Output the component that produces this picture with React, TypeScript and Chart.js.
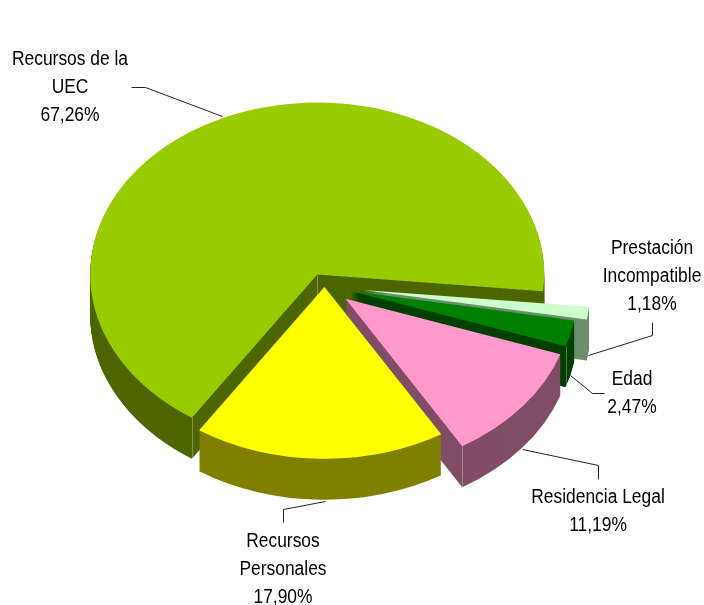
import React, { useEffect, useRef } from "react";
import { Chart, registerables } from "chart.js";

Chart.register(...registerables);

const categories = [
  ["Recursos de la", "UEC"],
  ["Prestación", "Incompatible"],
  ["Edad"],
  ["Residencia Legal"],
  ["Recursos", "Personales"],
];
const shares = [67.26, 1.18, 2.47, 11.19, 17.9];
const explode = [17, 39, 27, 27, 1.3];
const topColors = ["#99cc00", "#ccffcc", "#008000", "#ff99cc", "#ffff00"];
const wallColors = ["#4d6600", "#6b8f6f", "#004000", "#804d66", "#808000"];

const SQUASH = 0.757;
const DEPTH = 41;
const FONT = '20px "Liberation Sans"';
const NARROW = 0.87;
const LINE = 27.8;

const labelCenters = [
  [70, 59.5],
  [652, 248.5],
  [632, 379.5],
  [598, 497.5],
  [283, 541.5],
];
const leaders = [
  [[131, 87], [145, 87], [222, 116]],
  [[588, 355], [652, 335], [652, 322]],
  [[570, 375], [592, 393], [604, 393]],
  [[522, 449], [598, 465], [598, 479]],
  [[325, 501], [283, 509], [283, 522]],
];

const formatShare = (v: number) => v.toFixed(2).replace(".", ",") + "%";

const pie3d = {
  id: "pie3d",
  afterDatasetsUpdate(chart: any) {
    // Slide each wedge out along its own bisector (the built-in offset also narrows wedges).
    chart.getDatasetMeta(0).data.forEach((el: any, idx: number) => {
      const mid = (el.startAngle + el.endAngle) / 2;
      el.x += Math.cos(mid) * explode[idx];
      el.y += Math.sin(mid) * explode[idx];
    });
  },
  beforeDatasetsDraw(chart: any) {
    const ctx = chart.ctx;
    const arcs = chart.getDatasetMeta(0).data;
    const cy = (chart.chartArea.top + chart.chartArea.bottom) / 2;
    const squashAt = (shift: number) => {
      ctx.setTransform(1, 0, 0, SQUASH, 0, cy + shift - cy * SQUASH);
    };
    ctx.save();
    arcs.forEach((el: any, idx: number) => {
      ctx.fillStyle = wallColors[idx];
      for (let i = DEPTH; i >= 1; i--) {
        squashAt(i);
        ctx.beginPath();
        ctx.moveTo(el.x, el.y);
        ctx.arc(el.x, el.y, el.outerRadius, el.startAngle, el.endAngle);
        ctx.closePath();
        ctx.fill();
      }
      // pale ridge where two wall faces meet
      const corners: number[][] = [];
      const tip = (a: number) => [el.x + Math.cos(a) * el.outerRadius, el.y + Math.sin(a) * el.outerRadius];
      if (idx === 0) corners.push([el.x, el.y], tip(el.startAngle));
      if (idx === 2 || idx === 3) corners.push(tip(el.endAngle));
      ctx.setTransform(1, 0, 0, 1, 0, 0);
      ctx.strokeStyle = "rgba(255,255,255,0.3)";
      ctx.lineWidth = 1;
      corners.forEach(([x, y]) => {
        const sy = cy + (y - cy) * SQUASH;
        ctx.beginPath();
        ctx.moveTo(Math.round(x) + 0.5, sy);
        ctx.lineTo(Math.round(x) + 0.5, sy + DEPTH);
        ctx.stroke();
      });
    });
    squashAt(0);
  },
  afterDatasetsDraw(chart: any) {
    const ctx = chart.ctx;
    ctx.restore();
    ctx.save();
    leaders.forEach((pts) => {
      ctx.beginPath();
      pts.forEach(([x, y], i) => (i ? ctx.lineTo(x + 0.5, y + 0.5) : ctx.moveTo(x + 0.5, y + 0.5)));
      ctx.strokeStyle = "#222";
      ctx.lineWidth = 1;
      ctx.stroke();
    });
    ctx.font = FONT;
    ctx.fillStyle = "#000";
    ctx.textAlign = "center";
    ctx.textBaseline = "middle";
    categories.forEach((lines, idx) => {
      const [x, y] = labelCenters[idx];
      [...lines, formatShare(shares[idx])].forEach((t, i) => {
        ctx.save();
        ctx.translate(x, y + i * LINE);
        ctx.scale(NARROW, 1);
        ctx.fillText(t, 0, 0);
        ctx.restore();
      });
    });
    ctx.restore();
  },
};

export default function App() {
  const ref = useRef<HTMLCanvasElement>(null);
  useEffect(() => {
    document.body.style.margin = "0";
    const chart = new Chart(ref.current!, {
      type: "pie",
      data: {
        labels: categories.map((c) => c.join(" ")),
        datasets: [
          {
            data: shares,
            backgroundColor: topColors,
            borderWidth: 0,
            clip: false,
          } as any,
        ],
      },
      options: {
        animation: false,
        responsive: false,
        maintainAspectRatio: false,
        rotation: -146.5,
        radius: 227,
        layout: { padding: { left: 0, top: 0, right: 55, bottom: 33 } },
        plugins: { legend: { display: false }, tooltip: { enabled: false } },
      } as any,
      plugins: [pie3d],
    });
    return () => chart.destroy();
  }, []);
  return (
    <div style={{ width: 704, height: 605 }}>
      <canvas ref={ref} width={704} height={605} style={{ display: "block" }} />
    </div>
  );
}
